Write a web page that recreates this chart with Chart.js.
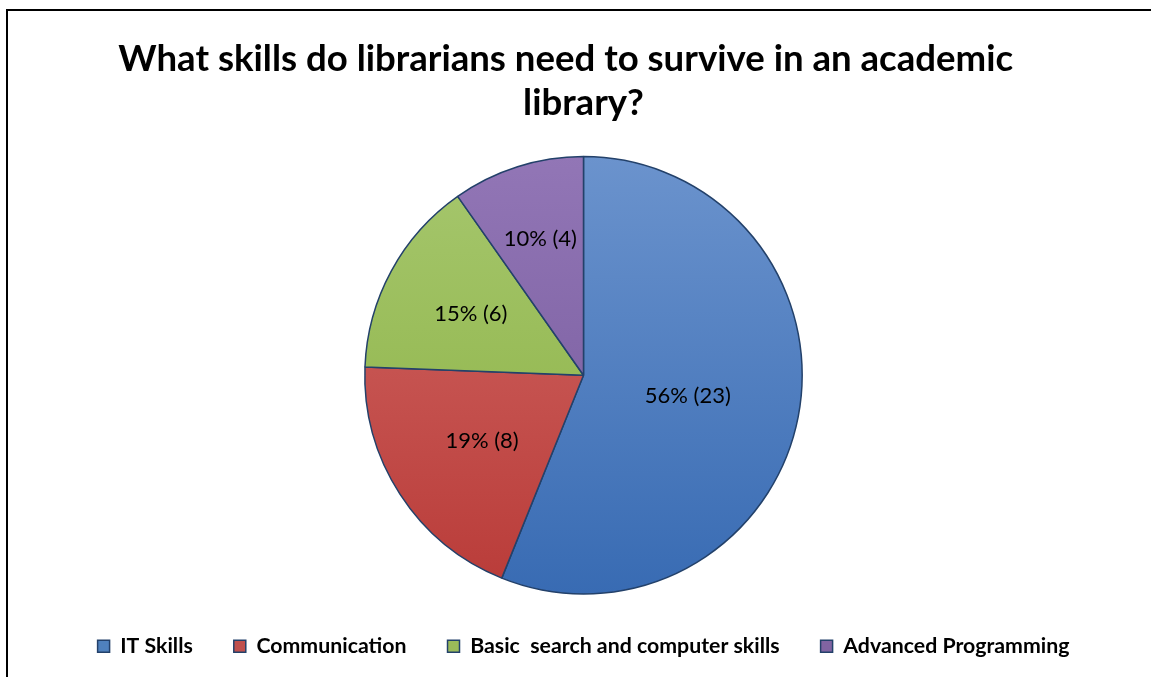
<!DOCTYPE html>
<html>
<head>
<meta charset="utf-8">
<script src="https://cdn.jsdelivr.net/npm/chart.js@4"></script>
<style>
  html, body { margin: 0; padding: 0; background: #fff; overflow: hidden; }
  #wrap { position: relative; width: 1151px; height: 677px; }
  #frame { position: absolute; left: 6px; top: 9px; width: 1160px; height: 700px; border: 2px solid #000; box-sizing: border-box; }
  #myChart { position: absolute; left: 0; top: 0; }
</style>
</head>
<body>
<div id="wrap">
  <div id="frame"></div>
  <canvas id="myChart" width="1151" height="677"></canvas>
</div>
<script>
const labels = [
  "IT Skills",
  "Communication",
  "Basic  search and computer skills",
  "Advanced Programming",
];
const counts = [23, 8, 6, 4];
const percents = [56, 19, 15, 10];

// light (top) and dark (bottom) shade per slice
const topColors = ["#6B93CD", "#D26A67", "#A6C76E", "#9276B6"];
const bottomColors = ["#386BB3", "#B93B38", "#8AB040", "#735799"];
const legendColors = ["#4F81BD", "#C0504D", "#9BBB59", "#8064A2"];

function sliceFill(ctx) {
  const area = ctx.chart.chartArea;
  if (!area) return legendColors[ctx.dataIndex];
  const c = ctx.chart.ctx;
  const g = c.createLinearGradient(0, area.top, 0, area.bottom);
  g.addColorStop(0, topColors[ctx.dataIndex]);
  g.addColorStop(1, bottomColors[ctx.dataIndex]);
  return g;
}

// value labels inside each slice; thin slices push their label outward
const sliceLabels = {
  id: "sliceLabels",
  afterDatasetsDraw(chart) {
    const c = chart.ctx;
    const meta = chart.getDatasetMeta(0);
    const total = counts.reduce((a, b) => a + b, 0);
    c.save();
    c.font = "22px Lato";
    c.fillStyle = "#000";
    c.textAlign = "center";
    c.textBaseline = "middle";
    meta.data.forEach((arc, i) => {
      const share = counts[i] / total;
      const mid = (arc.startAngle + arc.endAngle) / 2;
      const r = arc.outerRadius * (0.45 + 0.02 / share);
      const x = arc.x + Math.cos(mid) * r;
      const y = arc.y + Math.sin(mid) * r;
      c.fillText(percents[i] + "% (" + counts[i] + ")", x, y);
    });
    c.restore();
  },
};

const config = {
  type: "pie",
  data: {
    labels,
    datasets: [
      {
        data: counts,
        backgroundColor: sliceFill,
        borderColor: "#23416A",
        borderWidth: 1.5,
      },
    ],
  },
  options: {
    responsive: false,
    animation: false,
    layout: { padding: { top: 0, bottom: 10, left: 16, right: 0 } },
    plugins: {
      title: {
        display: true,
        text: ["What skills do librarians need to survive in an academic    ", "library?"],
        color: "#000",
        font: { family: "Lato", size: 36.6, weight: "bold", lineHeight: 1.2 },
        padding: { top: 37, bottom: 31 },
      },
      legend: {
        position: "bottom",
        labels: {
          color: "#000",
          font: { family: "Lato", size: 21.3, weight: "bold" },
          boxWidth: 12,
          boxHeight: 12,
          padding: 41,
          generateLabels(chart) {
            return labels.map((t, i) => ({
              text: t,
              fillStyle: legendColors[i],
              strokeStyle: "#23416A",
              lineWidth: 1.5,
              index: i,
            }));
          },
        },
      },
      tooltip: { enabled: false },
    },
  },
  plugins: [sliceLabels],
};

const myChart = new Chart(document.getElementById("myChart"), config);
</script>
</body>
</html>
